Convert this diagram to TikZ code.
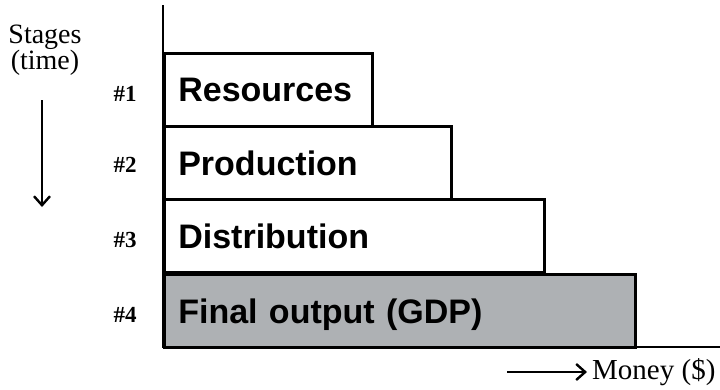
\documentclass[tikz,border=0pt]{standalone}
\usepackage{fontspec}
\setmainfont{Liberation Serif}
\newfontfamily\boxfont{Liberation Sans}
\usepackage{tikz}
\usetikzlibrary{arrows.meta}
\definecolor{gdpgray}{RGB}{174,177,180}
\newcommand{\stagelinewidth}{2.6pt}
\tikzstyle{stagebox}=[draw, line width=\stagelinewidth, anchor=north west, inner xsep=14pt, inner ysep=0,
                      minimum height=73pt, align=left, font=\boxfont\bfseries\fontsize{34}{34}\selectfont,
                      text depth=0pt]
\tikzstyle{finalbox}=[stagebox, fill=gdpgray]
\tikzstyle{stagenum}=[inner sep=0, font=\bfseries\fontsize{23}{23}\selectfont]
\tikzstyle{axislabel}=[inner sep=0, font=\fontsize{28}{25}\selectfont, align=center]
\tikzstyle{axis}=[line width=\stagelinewidth]
\tikzstyle{timearrow}=[line width=2.4pt, -{Straight Barb[length=9pt, width=16pt, line width=2.4pt]}]

\begin{document}
\begin{tikzpicture}[x=1pt, y=-1pt]
        \useasboundingbox (0, 0) rectangle (720, 389);
        % Stages, one box per step
        \node[stagebox, text width=180pt]  (res)   at (163, 52)  {Resources};
        \node[stagebox, text width=259pt]  (prod)  at (163, 125) {Production};
        \node[stagebox, text width=352pt]  (dist)  at (163, 198) {Distribution};
        \node[finalbox, text width=443pt]  (final) at (163, 273) {Final output (GDP)};
        \node[stagenum] (n1) at (125, 94)  {\#1};
        \node[stagenum] (n2) at (125, 165) {\#2};
        \node[stagenum] (n3) at (125, 240) {\#3};
        \node[stagenum] (n4) at (125, 315) {\#4};
        % Axes
        \coordinate (origin) at (163, 347);
        \coordinate (top)    at (163, 5);
        \coordinate (right)  at (720, 347);
        \draw[axis] (top) -- (origin) -- (right);
        % Time arrow
        \node[axislabel] (stages) at (45, 50) {Stages\\(time)};
        \coordinate (tstart) at (42, 100);
        \coordinate (tend)   at (42, 207);
        \draw[timearrow] (tstart) -- (tend);
        % Money arrow
        \coordinate (mstart) at (507, 372);
        \node[axislabel, anchor=west, font=\fontsize{29}{29}\selectfont] (money) at (592, 372) {Money (\$)};
        \draw[timearrow, shorten >=5pt] (mstart) -- (money.west);
    \end{tikzpicture}
\end{document}
